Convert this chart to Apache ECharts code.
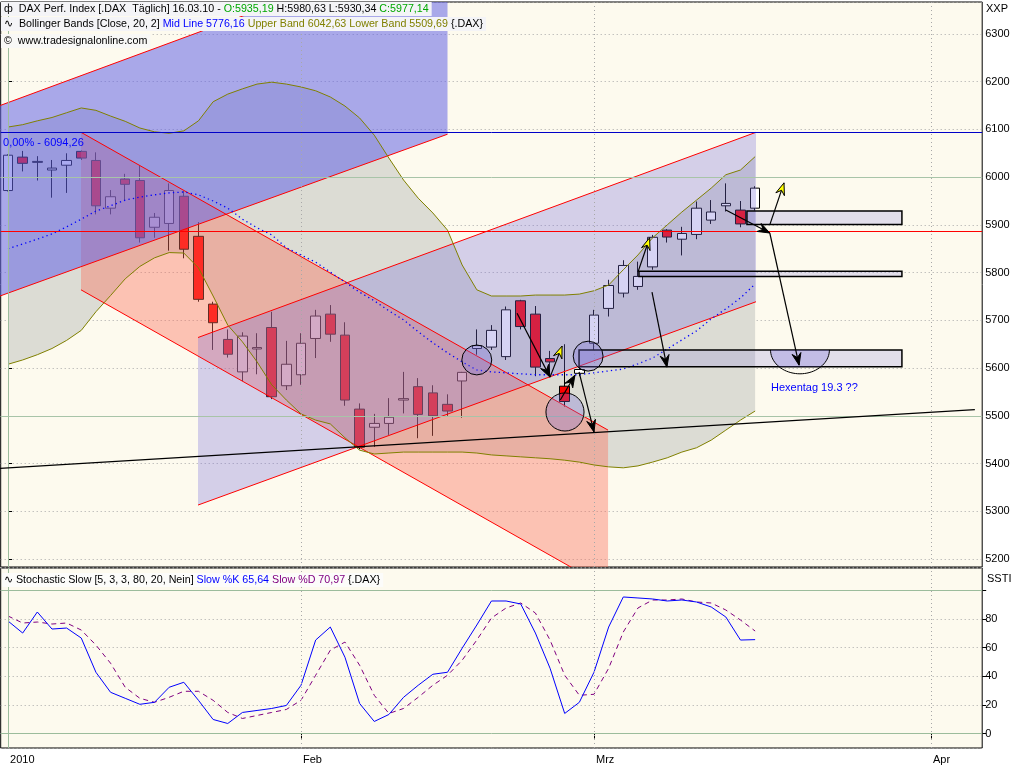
<!DOCTYPE html>
<html><head><meta charset="utf-8">
<script src="https://cdn.jsdelivr.net/npm/echarts@6/dist/echarts.min.js"></script>
<style>html,body{margin:0;padding:0;background:#fff}#c{width:1024px;height:768px}</style>
</head><body><div id="c"></div>
<script>
// ---------- DATA ----------
const dates = ['04.01.10','05.01.10','06.01.10','07.01.10','08.01.10','11.01.10','12.01.10','13.01.10','14.01.10','15.01.10','18.01.10','19.01.10','20.01.10','21.01.10','22.01.10','25.01.10','26.01.10','27.01.10','28.01.10','29.01.10',
'01.02.10','02.02.10','03.02.10','04.02.10','05.02.10','08.02.10','09.02.10','10.02.10','11.02.10','12.02.10','15.02.10','16.02.10','17.02.10','18.02.10','19.02.10','22.02.10','23.02.10','24.02.10','25.02.10','26.02.10',
'01.03.10','02.03.10','03.03.10','04.03.10','05.03.10','08.03.10','09.03.10','10.03.10','11.03.10','12.03.10','15.03.10','16.03.10','17.03.10','18.03.10','19.03.10','22.03.10','23.03.10','24.03.10','25.03.10','26.03.10','29.03.10','30.03.10','31.03.10',
'01.04.10','06.04.10','07.04.10','08.04.10'];
const monthStarts = {'04.01.10':'2010','01.02.10':'Feb','01.03.10':'Mrz','01.04.10':'Apr'};

const open  = [5972,6042,6031,6015,6025,6054,6035,5935,5996,5993,5895,5903,5960,5876,5734,5660,5592,5640,5685,5563,5586,5662,5713,5669,5514,5476,5484,5533,5561,5548,5524,5573,5641,5644,5624,5741,5713,5620,5562,5589,5652,5725,5757,5771,5812,5889,5870,5880,5910,5940,5931,5935];
const close = [6046,6029,6033,6019,6035,6040,5940,5959,5985,5873,5916,5972,5849,5744,5695,5629,5667,5643,5540,5608,5652,5709,5671,5533,5434,5484,5497,5536,5503,5500,5510,5591,5647,5679,5722,5687,5602,5613,5530,5597,5711,5773,5815,5792,5874,5874.5,5882,5935,5927,5945,5902,5977];
const low   = [5970,6012,5993,5957,5967,6036,5922,5922,5950,5863,5873,5846,5830,5739,5638,5622,5573,5587,5535,5554,5565,5621,5655,5521,5430,5435,5460,5505,5453,5458,5500,5496,5628,5638,5617,5681,5583,5586,5519,5583,5638,5708,5748,5764,5806,5863,5836,5870,5902,5928,5895,5930];
const high  = [6048,6055,6044,6036,6050,6056,6052,5973,6007,6024,5925,5987,5971,5906,5739,5681,5675,5673,5718,5657,5673,5722,5732,5696,5526,5504,5537,5592,5579,5564,5545,5592,5681,5690,5729,5743,5730,5636,5650,5604,5722,5785,5826,5823,5879,5891,5896,5949,5952,5987,5950,5981];

const bbMid   = [5850,5860,5870,5881,5896,5912,5929,5940,5952,5958,5963,5967,5969,5963,5950,5935,5912,5894,5879,5852,5837,5822,5801,5780,5759,5741,5720,5701,5676,5653,5632,5613,5596,5592,5590,5588,5586,5586,5586,5586,5590,5594,5598,5609,5621,5640,5659,5678,5703,5724,5747,5776];
const bbUpper = [6105,6110,6118,6125,6135,6145,6140,6128,6117,6103,6095,6092,6097,6118,6158,6174,6185,6195,6199,6195,6189,6181,6168,6149,6124,6088,6040,5994,5956,5925,5889,5816,5764,5751,5751,5751,5753,5753,5753,5755,5762,5774,5806,5837,5873,5900,5927,5952,5977,6005,6015,6043];
const bbLower = [5608,5617,5628,5641,5658,5679,5718,5752,5787,5813,5831,5842,5841,5810,5751,5690,5655,5613,5565,5533,5504,5491,5483,5454,5428,5420,5422,5424,5424,5424,5424,5424,5422,5418,5416,5414,5412,5410,5407,5403,5397,5393,5391,5395,5403,5412,5424,5433,5449,5470,5491,5510];

const stochK = [78.6,70.2,84.9,73,73.7,66.7,42.8,28.8,24.6,20.4,21.8,32.3,35.8,23.2,9.8,7,14.7,16.1,17.5,19.6,33.7,65.3,74.4,53.3,21,8.4,13.3,25.3,33.7,41.4,42.8,59.6,75.8,92.6,92.6,90.5,70.2,45.6,14,21.8,42.8,74.4,95.4,94.7,94,92.6,93.3,91.9,88.4,81.4,65.3,65.6];
const stochD = [82.1,77.2,77.9,76.5,77.2,72.3,61.8,49.1,32.3,24.6,21.8,25.3,29.5,29.5,23.2,14.7,10.5,12.6,14.7,16.8,23.2,40.7,58.2,63.9,47.7,26.7,14,17.5,25.3,33.7,40.7,51.2,65.3,80.7,87.7,91.2,84.2,65.3,40.7,26.7,27.4,45.6,70.9,87.7,93.3,93.3,94,91.9,91.2,86.3,79.3,71.6];

const priceTicks = [5200,5300,5400,5500,5600,5700,5800,5900,6000,6100,6200,6300];
const stochTicks = [0,20,40,60,80];

// drawing tools (data coordinates: [barIndex, price]; fractional bar positions)
const chanBlue  = [[-0.55,6150],[30,6496],[30,6090],[-0.55,5751]];
const chanPink  = [[4.98,6094],[40.96,5470],[40.96,5139],[4.98,5764]];
const chanLav   = [[12.97,5664],[51.06,6094],[51.06,5739],[12.97,5313]];
const supportLine = [[-0.55,5390],[66,5513]];
const levelFib = 6094.26, levelRed = 5887, levelGreen = [6000,5500];
const zoneBoxes = [[50.44,5929,61.02,5901],[43.07,5803,61.02,5792],[38.98,5638,61.02,5603]];
const circles = [[32.0,5617,1.02],[38.02,5508,1.30],[39.6,5625,1.02]];
const halfEllipse = [54.06,5638,2.01,50];
const arrowsBlack = [[34.75,5715,37.0,5581],[37.7,5533,38.7,5585],[38.98,5592,40.0,5466],[43.96,5759,44.98,5602],[49.0,5931,52.0,5883],[52.0,5883,54.0,5606]];
const arrowsYellow = [[37.0,5581,37.82,5646],[43.0,5801,43.8,5873],[52.0,5900,52.97,5988]];
const noteText = {pos:[52.08,5558], text:'Hexentag 19.3 ??'};
const fibText = {pos:[-0.34,levelFib], text:'0,00% - 6094,26'};

// ---------- CHART ----------
const F = 'Liberation Sans, Arial, sans-serif';
const FS = 10.7;
const chart = echarts.init(document.getElementById('c'), null, {renderer:'canvas'});
const candles = open.map((o,i)=>[o, close[i], low[i], high[i]]);
const isMonth = (idx, val) => monthStarts[val] !== undefined;
const rs = c => ({color:c,fontSize:FS,fontFamily:F,fontWeight:'normal',lineHeight:13});
const baseTS = {color:'#000',fontSize:FS,fontFamily:F,fontWeight:'normal',lineHeight:13};
const axTS = {color:'#000',fontSize:11,fontFamily:F,fontWeight:'normal',lineHeight:13};

function arrowEls(api, a, fill){
  const s = api.coord([a[0],a[1]]), e = api.coord([a[2],a[3]]);
  const dx=e[0]-s[0], dy=e[1]-s[1], L=Math.hypot(dx,dy), ux=dx/L, uy=dy/L;
  const hl=12, hw=4.5;
  const bx=e[0]-ux*hl, by=e[1]-uy*hl;
  const mx=e[0]-ux*hl*0.65, my=e[1]-uy*hl*0.65;
  return [
    {type:'line', shape:{x1:s[0],y1:s[1],x2:e[0],y2:e[1]}, style:{stroke:'#000',lineWidth:1.2}},
    {type:'polygon', shape:{points:[[e[0],e[1]],[bx-uy*hw,by+ux*hw],[mx,my],[bx+uy*hw,by-ux*hw]]}, style:{fill:fill,stroke:'#000',lineWidth:1}}
  ];
}
const vLineStyle = {color:'#a8a8a8',type:[1,3],width:1};
const yearLineStyle = {color:'#9cbc9c',type:'solid',width:1};

const option = {
  animation:false,
  backgroundColor:'#ffffff',
  textStyle:{fontFamily:F},
  title:[
    {left:1,top:2,padding:[1,3,0,3],backgroundColor:'#f4f4f7',
     text:'{k|ф  DAX Perf. Index [.DAX  Täglich] 16.03.10 - }{g|O:5935,19}{k| H:5980,63 L:5930,34 }{g|C:5977,14}',
     textStyle:Object.assign({},baseTS,{rich:{k:rs('#000'),g:rs('#00a800')}})},
    {left:1,top:17,padding:[1,3,0,3],backgroundColor:'#f4f4f7',
     text:'{k|∿  Bollinger Bands [Close, 20, 2] }{b|Mid Line 5776,16}{o| Upper Band 6042,63 Lower Band 5509,69} {.DAX}',
     textStyle:Object.assign({},baseTS,{rich:{k:rs('#000'),b:rs('#0000ff'),o:rs('#808000')}})},
    {left:1,top:34,padding:[1,3,0,3],backgroundColor:'#f8f8f6',
     text:'©  www.tradesignalonline.com',textStyle:baseTS},
    {left:2,top:573,padding:[1,3,0,2],backgroundColor:'#fcfcfa',
     text:'{k|∿ Stochastic Slow [5, 3, 3, 80, 20, Nein] }{b|Slow %K 65,64}{p| Slow %D 70,97} {.DAX}',
     textStyle:Object.assign({},baseTS,{rich:{k:rs('#000'),b:rs('#0000ff'),p:rs('#800080')}})},
    {left:986,top:2,padding:0,text:'XXP',textStyle:axTS},
    {left:987,top:572,padding:0,text:'SSTI',textStyle:axTS}
  ],
  grid:[
    {left:0.7,width:981.5,top:2,height:565,show:true,backgroundColor:'#fdfaee',borderColor:'#000',borderWidth:1},
    {left:0.7,width:981.5,top:568,height:180,show:true,backgroundColor:'#fdfaee',borderColor:'#000',borderWidth:1}
  ],
  xAxis:[
    {type:'category',gridIndex:0,data:dates,boundaryGap:true,axisLine:{show:false},axisTick:{show:false},axisLabel:{show:false},splitLine:{show:false}},
    {type:'category',gridIndex:1,data:dates,boundaryGap:true,axisLine:{show:false},
     axisTick:{show:true,interval:isMonth,alignWithLabel:true,length:5,lineStyle:{color:'#000'}},
     axisLabel:{show:true,interval:isMonth,formatter:v=>monthStarts[v]||'',align:'left',padding:[0,0,0,2],margin:6,color:'#000',fontSize:11,fontFamily:F},
     splitLine:{show:false}},
    {type:'value',gridIndex:0,min:-0.5,max:dates.length-0.5,show:false,axisLine:{show:false},axisTick:{show:false},axisLabel:{show:false},splitLine:{show:false}}
  ],
  yAxis:[
    {type:'value',gridIndex:0,position:'right',min:5183.2,max:6367,splitNumber:12,
     axisLine:{show:false},axisTick:{show:true,length:4,lineStyle:{color:'#000'}},
     axisLabel:{color:'#000',fontSize:11,fontFamily:F,margin:3,showMinLabel:false,showMaxLabel:false,formatter:v=>priceTicks.includes(v)?String(v):''},
     splitLine:{show:true,lineStyle:{color:'#a8a8a8',type:[1,3]}}},
    {type:'value',gridIndex:1,position:'right',min:-10.13,max:115.65,splitNumber:6,
     axisLine:{show:false},axisTick:{show:true,length:4,lineStyle:{color:'#000'}},
     axisLabel:{color:'#000',fontSize:11,fontFamily:F,margin:3,showMinLabel:false,showMaxLabel:false,formatter:v=>stochTicks.includes(v)?String(v):''},
     splitLine:{show:true,lineStyle:{color:'#a8a8a8',type:[1,3]}}}
  ],
  series:[
    {type:'custom',xAxisIndex:2,yAxisIndex:0,z:1,silent:true,clip:true,data:[[0,bbMid[0]]],
     renderItem:(p,api)=>{
       const up = bbUpper.map((v,i)=>api.coord([i,v]));
       const lo = bbLower.map((v,i)=>api.coord([i,v])).reverse();
       return {type:'polygon',shape:{points:up.concat(lo)},style:{fill:'#dcdcd4'}};
     }},
    {type:'line',xAxisIndex:0,yAxisIndex:0,z:2,silent:true,data:dates.map(()=>null),
     markLine:{silent:true,symbol:['none','none'],label:{show:false},
       data:[{xAxis:'01.02.10',lineStyle:vLineStyle},{xAxis:'01.03.10',lineStyle:vLineStyle},{xAxis:'01.04.10',lineStyle:vLineStyle},
             {xAxis:'04.01.10',lineStyle:yearLineStyle}]}},
    {type:'candlestick',xAxisIndex:0,yAxisIndex:0,z:2,silent:true,barWidth:10,data:candles,
     itemStyle:{color:'#ffffff',color0:'#ff0000',borderColor:'#000000',borderColor0:'#000000',borderWidth:1}},
    {type:'custom',xAxisIndex:2,yAxisIndex:0,z:3,silent:true,clip:true,data:[[0,bbMid[0]]],
     renderItem:(p,api)=>{
       const defs=[[chanPink,'rgba(250,110,90,0.4)'],[chanLav,'rgba(120,110,220,0.3)'],[chanBlue,'rgba(100,100,230,0.55)']];
       const kids=[];
       defs.forEach(d=>{kids.push({type:'polygon',shape:{points:d[0].map(q=>api.coord(q))},style:{fill:d[1]}});});
       defs.forEach(d=>{
         const pts=d[0].map(q=>api.coord(q));
         kids.push({type:'line',shape:{x1:pts[0][0],y1:pts[0][1],x2:pts[1][0],y2:pts[1][1]},style:{stroke:'#ff0000',lineWidth:1}});
         kids.push({type:'line',shape:{x1:pts[3][0],y1:pts[3][1],x2:pts[2][0],y2:pts[2][1]},style:{stroke:'#ff0000',lineWidth:1}});
       });
       return {type:'group',children:kids};
     }},
    {type:'line',xAxisIndex:0,yAxisIndex:0,z:4,silent:true,symbol:'none',data:bbUpper,lineStyle:{color:'#808000',width:1}},
    {type:'line',xAxisIndex:0,yAxisIndex:0,z:4,silent:true,symbol:'none',data:bbLower,lineStyle:{color:'#808000',width:1}},
    {type:'line',xAxisIndex:0,yAxisIndex:0,z:4,silent:true,symbol:'none',data:bbMid,lineStyle:{color:'#0000ff',width:1.3,type:[1.3,3.2]}},
    {type:'line',xAxisIndex:0,yAxisIndex:0,z:5,silent:true,data:dates.map(()=>null),
     markLine:{silent:true,symbol:['none','none'],label:{show:false},
       data:[{yAxis:levelFib,lineStyle:{color:'#0000c8',type:'solid',width:1}},
             {yAxis:levelRed,lineStyle:{color:'#ff0000',type:'solid',width:1}},
             {yAxis:levelGreen[0],lineStyle:{color:'#a8c4a8',type:'solid',width:1}},
             {yAxis:levelGreen[1],lineStyle:{color:'#a8c4a8',type:'solid',width:1}}]}},
    {type:'custom',xAxisIndex:2,yAxisIndex:0,z:6,silent:true,clip:true,data:[[0,bbMid[0]]],
     renderItem:(p,api)=>{
       const kids=[];
       const s0=api.coord(supportLine[0]), s1=api.coord(supportLine[1]);
       kids.push({type:'line',shape:{x1:s0[0],y1:s0[1],x2:s1[0],y2:s1[1]},style:{stroke:'#000',lineWidth:1.3}});
       zoneBoxes.forEach(b=>{
         const a=api.coord([b[0],b[1]]), c=api.coord([b[2],b[3]]);
         kids.push({type:'rect',shape:{x:a[0],y:a[1],width:c[0]-a[0],height:c[1]-a[1]},style:{fill:'rgba(120,110,220,0.2)',stroke:'#000',lineWidth:1.5}});
       });
       {
         const c=api.coord([halfEllipse[0],halfEllipse[1]]);
         const sz=api.size([halfEllipse[2],halfEllipse[3]]);
         const rx=sz[0], ry=sz[1];
         const b3=api.coord([zoneBoxes[2][2],zoneBoxes[2][3]]);
         const arc=[], fillPts=[];
         for(let k=0;k<=40;k++){const t=Math.PI*k/40; const x=c[0]+rx*Math.cos(t), y=c[1]+ry*Math.sin(t); arc.push([x,y]); fillPts.push([x,Math.min(y,b3[1])]);}
         kids.push({type:'polygon',shape:{points:fillPts},style:{fill:'rgba(120,110,220,0.3)'}});
         kids.push({type:'polyline',shape:{points:arc},style:{stroke:'#000',lineWidth:1,fill:null}});
       }
       circles.forEach(ci=>{
         const c=api.coord([ci[0],ci[1]]); const r=api.size([ci[2],0])[0];
         kids.push({type:'circle',shape:{cx:c[0],cy:c[1],r:r},style:{fill:'rgba(120,110,220,0.3)',stroke:'#000',lineWidth:1}});
       });
       arrowsBlack.forEach(a=>{kids.push(...arrowEls(api,a,'#000'));});
       arrowsYellow.forEach(a=>{kids.push(...arrowEls(api,a,'#ffff00'));});
       const t=api.coord(noteText.pos);
       kids.push({type:'text',x:t[0],y:t[1],style:{text:noteText.text,fill:'#0000ff',font:'11px '+F,verticalAlign:'middle',align:'left'}});
       const f=api.coord(fibText.pos);
       kids.push({type:'text',x:f[0],y:f[1]+5,style:{text:fibText.text,fill:'#0000ff',font:'11px '+F,verticalAlign:'top',align:'left'}});
       return {type:'group',children:kids};
     }},
    {type:'line',xAxisIndex:1,yAxisIndex:1,z:1,silent:true,data:dates.map(()=>null),
     markLine:{silent:true,symbol:['none','none'],label:{show:false},
       data:[{xAxis:'01.02.10',lineStyle:vLineStyle},{xAxis:'01.03.10',lineStyle:vLineStyle},{xAxis:'01.04.10',lineStyle:vLineStyle},
             {xAxis:'04.01.10',lineStyle:yearLineStyle},
             {yAxis:0,lineStyle:yearLineStyle},{yAxis:100,lineStyle:yearLineStyle}]}},
    {type:'line',xAxisIndex:1,yAxisIndex:1,z:3,silent:true,symbol:'none',data:stochD,lineStyle:{color:'#800080',width:1,type:[5,4]}},
    {type:'line',xAxisIndex:1,yAxisIndex:1,z:4,silent:true,symbol:'none',data:stochK,lineStyle:{color:'#0000ff',width:1}}
  ]
};
chart.setOption(option);
</script></body></html>
